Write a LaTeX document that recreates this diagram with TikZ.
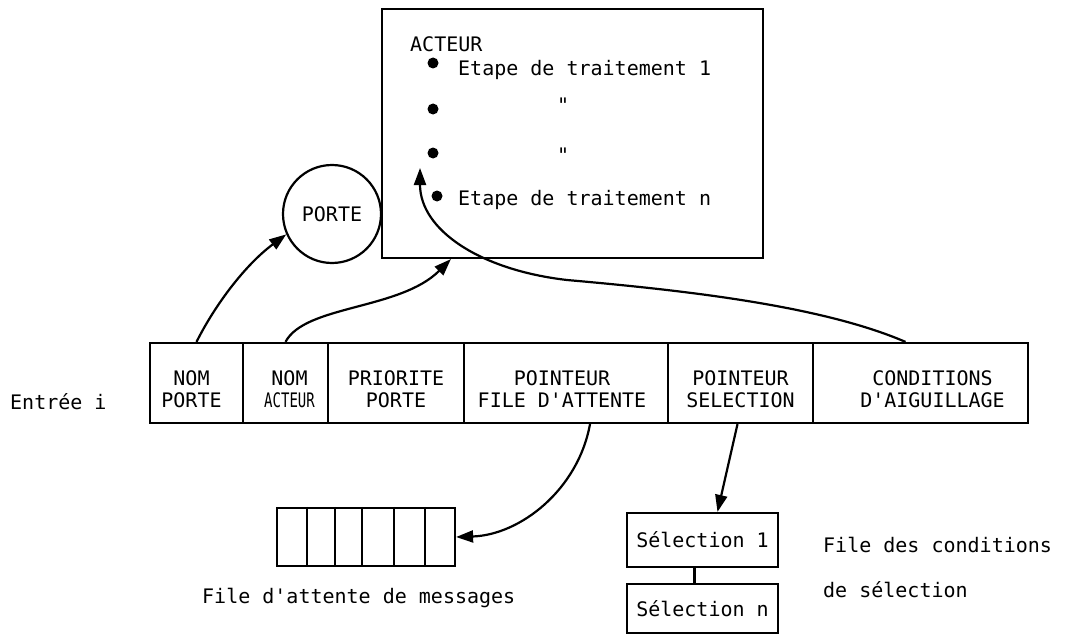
\documentclass[tikz,border=0pt]{standalone}
\usepackage{fontspec}
\usepackage{graphicx}
\setmonofont{DejaVu Sans Mono}
\usetikzlibrary{arrows.meta,calc}
\begin{document}
\begin{tikzpicture}[x=1pt,y=-1pt,
  every node/.style={font=\ttfamily\fontsize{20}{22}\selectfont},
  frame/.style={draw, line width=2.2pt, inner sep=0pt},
  cell/.style={frame, minimum height=80pt},
  celltext/.style={align=center, inner sep=0pt},
  plain/.style={inner sep=0pt, anchor=base west},
  dot/.style={circle, fill, inner sep=0pt, minimum size=11pt},
  link/.style={line width=2.2pt, -{Triangle[length=17pt,width=12pt]}},
]
\useasboundingbox (0,0) rectangle (1069,634);

% actor box with its processing steps
\node[frame, minimum width=381pt, minimum height=249pt] (acteur) at (572.5,133.5) {};
\node[plain] (title) at (410,52) {ACTEUR};
\node[dot] (b1) at (433,63) {};
\node[dot] (b2) at (433,109) {};
\node[dot] (b3) at (433,153) {};
\node[dot] (b4) at (437,196) {};
\node[plain] (s1) at (458,76) {Etape de traitement 1};
\node[plain] (d2) at (557,112) {"};
\node[plain] (d3) at (557,162) {"};
\node[plain] (s4) at (458,205) {Etape de traitement n};

% gate
\node[draw, circle, line width=2.2pt, minimum size=98pt, inner sep=0pt] (porte) at (332,214) {PORTE};

% table entry
\node[plain] (entree) at (10,409) {Entrée i};
\node[cell, minimum width=93pt]  (c1) at (196.5,383) {};
\node[cell, minimum width=85pt]  (c2) at (285.5,383) {};
\node[cell, minimum width=136pt] (c3) at (396,383) {};
\node[cell, minimum width=204pt] (c4) at (566,383) {};
\node[cell, minimum width=145pt] (c5) at (740.5,383) {};
\node[cell, minimum width=215pt] (c6) at (920.5,383) {};
\node[celltext] (t1) at ([xshift=-5pt,yshift=-6pt]c1.center) {NOM\\PORTE};
\node[celltext] (t2) at ([xshift=4pt,yshift=-6pt]c2.center) {NOM\\\scalebox{0.7}[1]{ACTEUR}};
\node[celltext] (t3) at ([xshift=0pt,yshift=-6pt]c3.center) {PRIORITE\\PORTE};
\node[celltext] (t4) at ([xshift=-4pt,yshift=-6pt]c4.center) {POINTEUR\\FILE D'ATTENTE};
\node[celltext] (t5) at ([xshift=0pt,yshift=-6pt]c5.center) {POINTEUR\\SELECTION};
\node[celltext] (t6) at ([xshift=12pt,yshift=-6pt]c6.center) {CONDITIONS\\D'AIGUILLAGE};

% message queue
\node[frame, minimum width=178pt, minimum height=58pt] (queue) at (366,537) {};
\foreach \dx in {31,59,86,118,149}
  \draw[line width=2.2pt] ([xshift=\dx pt]queue.north west) -- ([xshift=\dx pt]queue.south west);
\node[plain] (qcap) at (202,603) {File d'attente de messages};

% selection conditions
\node[frame, minimum width=151pt, minimum height=54pt] (sel1) at (702.5,540) {Sélection 1};
\node[frame, minimum width=151pt, minimum height=49pt] (sel2) at (702.5,608.5) {Sélection n};
\draw[line width=2.2pt] ([xshift=-8pt]sel1.south) -- ([xshift=-8pt]sel2.north);
\node[plain] (scap1) at (823,552) {File des conditions};
\node[plain] (scap2) at (823,597) {de sélection};

% pointers
\coordinate (tip3) at ([xshift=-13pt,yshift=-15pt]b3.center);
\draw[link] (c1.north) .. controls (215,305) and (245,265) .. (porte.204);
\draw[link] (c2.north) .. controls (305,305) and (400,310) .. ([xshift=70pt]acteur.south west);
\draw[link] ([xshift=-15pt]c6.north) .. controls (820,305) and (680,290) .. (567,280)
            .. controls (480,270) and (420,230) .. (tip3);
\draw[link] ([xshift=24pt]c4.south) .. controls (578,490) and (520,535) .. (queue.east);
\draw[link] ([xshift=-3pt]c5.south) -- ([xshift=15pt]sel1.north);
\end{tikzpicture}
\end{document}
